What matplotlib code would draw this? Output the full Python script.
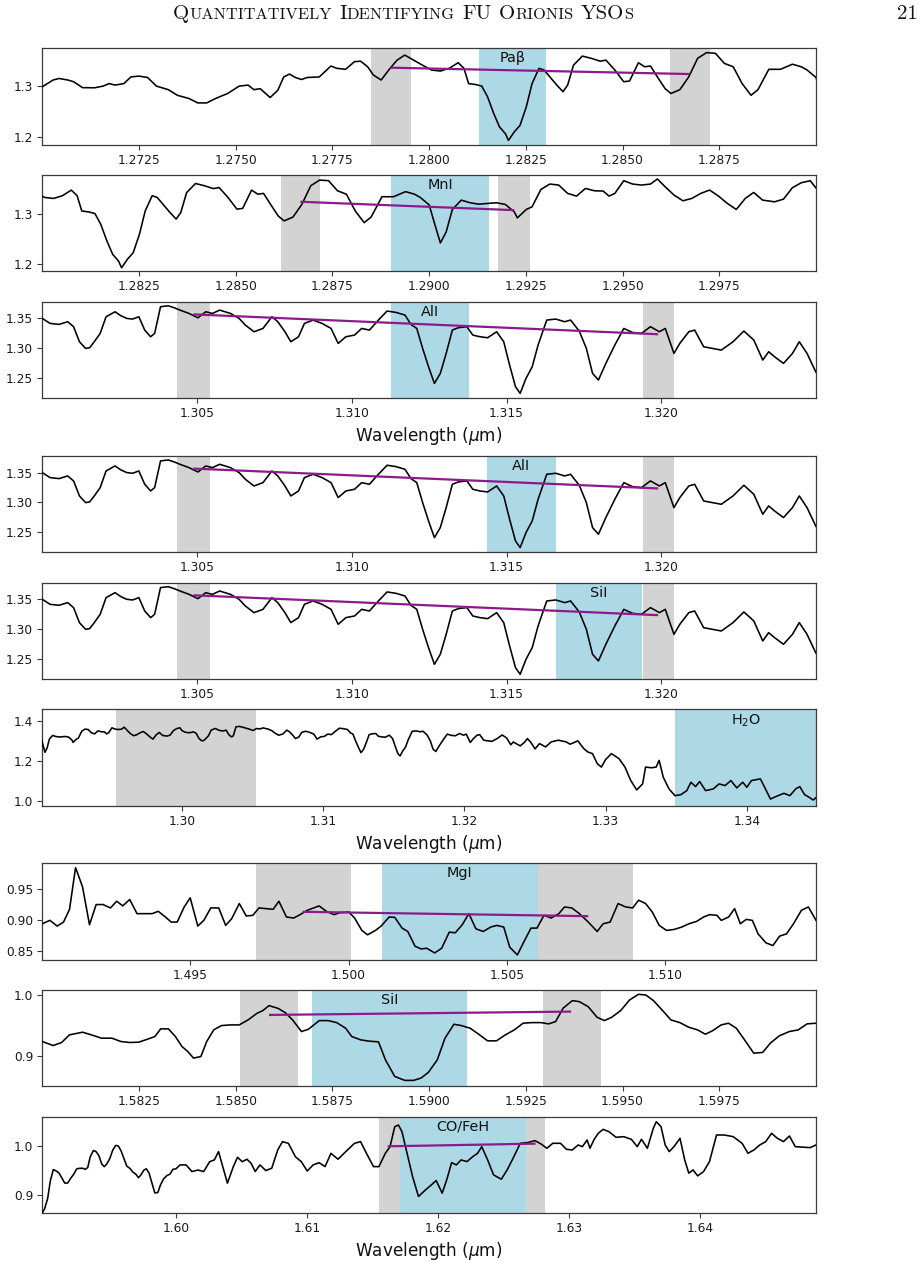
import numpy as np
import matplotlib
matplotlib.use("Agg")
import matplotlib.pyplot as plt

# ---------------- data ----------------
wave_j1 = [1.27000,1.27028,1.27043,1.27066,1.27081,1.27104,1.27135,1.27157,1.27173,1.27188,
1.27211,1.27229,1.27249,1.27272,1.27295,1.27326,1.27349,1.27379,1.27402,1.27425,
1.27448,1.27479,1.27509,1.27532,1.27547,1.27563,1.27589,1.27609,1.27624,1.27639,
1.27654,1.27670,1.27685,1.27716,1.27746,1.27761,1.27784,1.27807,1.27823,1.27841,
1.27856,1.27876,1.27899,1.27917,1.27937,1.27960,1.27983,1.28006,1.28029,1.28052,
1.28075,1.28090,1.28102,1.28121,1.28136,1.28151,1.28167,1.28182,1.28197,1.28205,
1.28220,1.28235,1.28251,1.28266,1.28284,1.28297,1.28312,1.28330,1.28346,1.28358,
1.28373,1.28396,1.28419,1.28442,1.28457,1.28480,1.28503,1.28518,1.28541,1.28557,
1.28572,1.28590,1.28610,1.28625,1.28648,1.28671,1.28694,1.28717,1.28740,1.28763,
1.28786,1.28809,1.28832,1.28850,1.28878,1.28908,1.28939,1.28962,1.28977,1.29000]
flux_j1 = [1.2987,1.312,1.315,1.312,1.3086,1.297,1.2967,1.300,1.305,1.302,
1.305,1.318,1.3197,1.317,1.300,1.293,1.282,1.2757,1.267,1.267,
1.2757,1.2855,1.300,1.302,1.293,1.295,1.2776,1.292,1.318,1.3237,
1.317,1.313,1.317,1.318,1.3395,1.335,1.333,1.348,1.349,1.338,
1.3217,1.312,1.335,1.351,1.361,1.351,1.341,1.3316,1.3296,1.335,
1.346,1.335,1.305,1.303,1.300,1.279,1.246,1.2197,1.2066,1.1934,
1.210,1.223,1.259,1.305,1.335,1.3316,1.318,1.302,1.289,1.302,
1.341,1.359,1.3546,1.349,1.351,1.3316,1.3086,1.310,1.346,1.338,
1.3395,1.318,1.295,1.2855,1.293,1.318,1.3546,1.3658,1.3645,1.3447,
1.338,1.305,1.282,1.293,1.333,1.333,1.343,1.338,1.3316,1.317]

wave_j2 = [1.29014,1.29029,1.29044,1.29060,1.29083,1.29106,1.29128,1.29151,1.29174,1.29197,
1.29220,1.29228,1.29251,1.29266,1.29289,1.29312,1.29335,1.29358,1.29381,1.29404,
1.29427,1.29450,1.29465,1.29480,1.29503,1.29526,1.29549,1.29572,1.29590,1.29610,
1.29633,1.29656,1.29679,1.29702,1.29725,1.29748,1.29771,1.29794,1.29817,1.29839,
1.29862,1.29893,1.29916,1.29939,1.29962,1.29985]
flux_j2 = [1.2803,1.2421,1.2638,1.3079,1.3263,1.3211,1.3184,1.3197,1.3211,1.3178,
1.3033,1.2914,1.3079,1.3132,1.3474,1.3579,1.3559,1.3395,1.3342,1.3493,
1.3447,1.3441,1.3342,1.3395,1.3645,1.3579,1.3559,1.3579,1.3678,1.3526,
1.3362,1.3250,1.3296,1.3395,1.3461,1.3342,1.3197,1.3079,1.3296,1.3414,
1.3263,1.3230,1.3283,1.3507,1.3605,1.3645]

wave_j3 = [1.30000,1.30025,1.30054,1.30082,1.30101,1.30120,1.30140,1.30153,1.30168,1.30187,
1.30206,1.30235,1.30254,1.30273,1.30292,1.30312,1.30331,1.30350,1.30363,1.30382,
1.30407,1.30426,1.30445,1.30474,1.30503,1.30528,1.30550,1.30573,1.30608,1.30636,
1.30656,1.30684,1.30713,1.30742,1.30761,1.30784,1.30803,1.30828,1.30847,1.30875,
1.30904,1.30933,1.30956,1.30981,1.31009,1.31032,1.31057,1.31086,1.31114,1.31143,
1.31172,1.31191,1.31210,1.31229,1.31248,1.31267,1.31286,1.31305,1.31325,1.31344,
1.31372,1.31391,1.31414,1.31439,1.31468,1.31491,1.31510,1.31529,1.31544,1.31563,
1.31583,1.31602,1.31630,1.31659,1.31688,1.31707,1.31735,1.31758,1.31778,1.31797,
1.31821,1.31850,1.31879,1.31907,1.31936,1.31965,1.31994,1.32013,1.32041,1.32060,
1.32089,1.32108,1.32137,1.32166,1.32194,1.32232,1.32267,1.32299,1.32328,1.32347,
1.32366,1.32395,1.32424,1.32446,1.32471,1.32500]
flux_j3 = [1.3500,1.3416,1.3399,1.3444,1.3360,1.3107,1.2994,1.3006,1.3107,1.3247,
1.3528,1.3612,1.3545,1.3500,1.3489,1.3528,1.3303,1.3191,1.3247,1.3697,
1.3713,1.3680,1.3640,1.3584,1.3511,1.3612,1.3584,1.3640,1.3584,1.3500,
1.3388,1.3275,1.3331,1.3528,1.3444,1.3275,1.3107,1.3191,1.3416,1.3472,
1.3416,1.3331,1.3079,1.3191,1.3219,1.3331,1.3303,1.3472,1.3624,1.3601,
1.3556,1.3399,1.3331,1.2994,1.2685,1.2404,1.2573,1.2910,1.3303,1.3343,
1.3360,1.3219,1.3191,1.3174,1.3275,1.3107,1.2713,1.2348,1.2236,1.2489,
1.2685,1.3051,1.3472,1.3489,1.3444,1.3472,1.3287,1.2994,1.2573,1.2461,
1.2742,1.3051,1.3331,1.3264,1.3247,1.3360,1.3275,1.3331,1.2910,1.3079,
1.3275,1.3303,1.3022,1.2994,1.2966,1.3107,1.3287,1.3135,1.2798,1.2938,
1.2854,1.2742,1.2910,1.3107,1.2910,1.2590]

wave_j4 = [1.32532,1.32574,1.32615,1.32665,1.32720,1.32749,1.32803,1.32845,1.32874,1.32907,
1.32941,1.32970,1.32999,1.33041,1.33095,1.33137,1.33178,1.33220,1.33262,1.33283,
1.33324,1.33358,1.33379,1.33408,1.33449,1.33491,1.33533,1.33575,1.33604,1.33637,
1.33666,1.33708,1.33762,1.33804,1.33846,1.33887,1.33929,1.33971,1.34000,1.34033,
1.34096,1.34138,1.34167,1.34221,1.34263,1.34305,1.34346,1.34375,1.34409,1.34442,
1.34471,1.34492]
flux_j4 = [1.2857,1.2689,1.2941,1.3025,1.2941,1.2824,1.2992,1.2605,1.2437,1.2353,
1.1849,1.1681,1.2050,1.2353,1.2101,1.1681,1.1008,1.0538,1.0840,1.1681,
1.1647,1.1681,1.2017,1.1176,1.0588,1.0252,1.0303,1.0504,1.0924,1.0706,
1.0958,1.0504,1.0588,1.0840,1.0756,1.1008,1.0639,1.0924,1.0672,1.1008,
1.1092,1.0504,1.0084,1.0252,1.0370,1.0252,1.0588,1.0706,1.0303,1.0168,
1.0034,1.0168]

wave_h1 = [1.49033,1.49057,1.49080,1.49100,1.49119,1.49138,1.49160,1.49182,1.49203,1.49225,
1.49248,1.49268,1.49287,1.49309,1.49332,1.49356,1.49380,1.49399,1.49422,1.49440,
1.49459,1.49481,1.49500,1.49524,1.49543,1.49565,1.49590,1.49612,1.49631,1.49655,
1.49677,1.49698,1.49717,1.49739,1.49762,1.49780,1.49804,1.49827,1.49847,1.49870,
1.49907,1.49930,1.49954,1.49973,1.50001,1.50019,1.50042,1.50060,1.50085,1.50103,
1.50128,1.50146,1.50169,1.50187,1.50210,1.50229,1.50247,1.50272,1.50294,1.50318,
1.50337,1.50359,1.50380,1.50402,1.50425,1.50449,1.50468,1.50490,1.50509,1.50533,
1.50552,1.50576,1.50595,1.50617,1.50640,1.50664,1.50682,1.50705,1.50729,1.50757,
1.50785,1.50804,1.50826,1.50851,1.50875,1.50897,1.50916,1.50938,1.50959,1.50981,
1.51004,1.51028,1.51052,1.51075,1.51099,1.51121,1.51140,1.51163,1.51177,1.51200,
1.51219,1.51237,1.51256,1.51275,1.51293,1.51318,1.51340,1.51361,1.51383,1.51405,
1.51430,1.51452,1.51476]
flux_h1 = [0.8937,0.8992,0.8899,0.8964,0.9172,0.9850,0.9538,0.8921,0.9249,0.9249,
0.9194,0.9303,0.9227,0.9331,0.9101,0.9101,0.9101,0.9139,0.9046,0.8964,
0.8964,0.9210,0.9358,0.8899,0.8992,0.9194,0.9194,0.8910,0.9019,0.9265,
0.9063,0.9074,0.9194,0.9183,0.9172,0.9303,0.9046,0.9030,0.9085,0.9156,
0.9227,0.9139,0.9085,0.9117,0.9128,0.9030,0.8828,0.8757,0.8828,0.8899,
0.9046,0.9041,0.8866,0.8811,0.8571,0.8527,0.8538,0.8462,0.8538,0.8800,
0.8790,0.8921,0.9101,0.8855,0.8811,0.8883,0.8910,0.8883,0.8555,0.8429,
0.8626,0.8866,0.8866,0.9074,0.9030,0.9101,0.9210,0.9194,0.9101,0.8964,
0.8811,0.8937,0.8964,0.9265,0.9210,0.9194,0.9320,0.9265,0.9128,0.8910,
0.8828,0.8844,0.8883,0.8937,0.8975,0.9046,0.9085,0.9074,0.8992,0.9046,
0.9183,0.8937,0.9008,0.8992,0.8773,0.8626,0.8582,0.8735,0.8773,0.8937,
0.9156,0.9210,0.8992]

wave_h2 = [1.58000,1.58028,1.58050,1.58070,1.58104,1.58127,1.58153,1.58180,1.58203,1.58226,
1.58249,1.58272,1.58291,1.58306,1.58326,1.58344,1.58361,1.58376,1.58391,1.58410,
1.58425,1.58443,1.58463,1.58486,1.58509,1.58532,1.58555,1.58570,1.58586,1.58609,
1.58628,1.58647,1.58670,1.58688,1.58716,1.58739,1.58761,1.58784,1.58800,1.58823,
1.58846,1.58869,1.58887,1.58911,1.58937,1.58960,1.58979,1.58998,1.59021,1.59041,
1.59064,1.59083,1.59106,1.59128,1.59151,1.59174,1.59197,1.59220,1.59243,1.59266,
1.59289,1.59309,1.59327,1.59346,1.59370,1.59388,1.59411,1.59434,1.59453,1.59472,
1.59495,1.59518,1.59541,1.59560,1.59580,1.59602,1.59625,1.59648,1.59671,1.59694,
1.59714,1.59732,1.59755,1.59774,1.59794,1.59820,1.59839,1.59862,1.59882,1.59905,
1.59931,1.59954,1.59977,1.60000]
flux_h2 = [0.9235,0.9169,0.9219,0.9344,0.9388,0.9344,0.9290,0.9290,0.9235,0.9219,
0.9224,0.9273,0.9317,0.9443,0.9443,0.9317,0.9153,0.9071,0.8962,0.8989,
0.9235,0.9426,0.9497,0.9508,0.9508,0.9590,0.9699,0.9743,0.9825,0.9781,
0.9710,0.9590,0.9399,0.9437,0.9579,0.9579,0.9546,0.9454,0.9317,0.9262,
0.9240,0.9230,0.8934,0.8661,0.8596,0.8596,0.8634,0.8727,0.8934,0.9290,
0.9519,0.9497,0.9454,0.9355,0.9246,0.9246,0.9344,0.9426,0.9536,0.9546,
0.9546,0.9525,0.9563,0.9781,0.9907,0.9891,0.9809,0.9634,0.9579,0.9634,
0.9743,0.9918,1.0011,1.0000,0.9907,0.9754,0.9590,0.9546,0.9470,0.9426,
0.9355,0.9410,0.9508,0.9536,0.9454,0.9219,0.9044,0.9055,0.9208,0.9328,
0.9399,0.9426,0.9525,0.9536]

wave_h3 = [1.60032,1.60077,1.60122,1.60167,1.60212,1.60257,1.60293,1.60325,1.60361,1.60393,
1.60438,1.60470,1.60506,1.60542,1.60573,1.60605,1.60641,1.60686,1.60731,1.60777,
1.60813,1.60858,1.60912,1.60957,1.61002,1.61047,1.61093,1.61138,1.61183,1.61237,
1.61296,1.61363,1.61409,1.61454,1.61508,1.61549,1.61598,1.61634,1.61670,1.61698,
1.61725,1.61770,1.61806,1.61851,1.61905,1.61950,1.61986,1.62032,1.62068,1.62104,
1.62140,1.62176,1.62221,1.62266,1.62302,1.62334,1.62379,1.62424,1.62483,1.62528,
1.62573,1.62628,1.62682,1.62740,1.62786,1.62831,1.62876,1.62935,1.62980,1.63025,
1.63070,1.63102,1.63138,1.63160,1.63192,1.63223,1.63260,1.63305,1.63359,1.63418,
1.63476,1.63521,1.63553,1.63598,1.63643,1.63666,1.63702,1.63734,1.63765,1.63801,
1.63847,1.63883,1.63914,1.63946,1.63982,1.64027,1.64072,1.64126,1.64185,1.64253,
1.64321,1.64366,1.64411,1.64456,1.64501,1.64546,1.64591,1.64637,1.64682,1.64727,
1.64795,1.64840,1.64885]
flux_h3 = [0.9615,0.9615,0.948,0.951,0.948,0.968,0.9716,0.9885,0.9547,0.9243,
0.958,0.977,0.968,0.973,0.965,0.948,0.9615,0.95,0.9547,0.9919,
1.0088,1.0054,0.978,0.968,0.949,0.9615,0.966,0.958,0.985,0.973,
0.9885,1.0054,1.0088,0.985,0.958,0.958,0.985,0.9986,1.0392,1.0426,
1.029,0.978,0.9378,0.8973,0.9108,0.921,0.9297,0.904,0.9324,0.9662,
0.9615,0.9716,0.9682,0.9784,0.9851,0.9986,0.9716,0.9412,0.9324,0.9514,
0.975,1.0054,1.0068,1.0108,1.0041,0.9953,1.0054,1.0054,0.9932,0.9919,
1.002,0.9986,1.0122,0.9953,1.0135,1.0257,1.0338,1.029,1.0176,1.0189,
1.0135,0.9986,1.0135,0.9953,1.0358,1.0493,1.0392,1.002,0.9885,0.9986,
1.0155,0.9716,0.9446,0.9514,0.9392,0.948,0.9682,1.0223,1.0223,1.0189,
1.0054,0.9851,0.9919,1.002,1.0088,1.0257,1.0155,1.0088,1.0203,0.9986,
0.9973,0.9966,1.002]

# line labels, feature windows, continuum windows, continuum fits
line_labels = ["Paβ", "MnI", "AlI", "AlI", "SiI", "H$_2$O", "MgI", "SiI", "CO/FeH"]
feature_windows = [(1.28130, 1.28303), (1.28902, 1.29156), (1.31128, 1.31380),
                   (1.31437, 1.31659), (1.31659, 1.31938), (1.33491, 1.34500),
                   (1.50105, 1.50598), (1.58697, 1.59099), (1.61707, 1.62668)]
continuum_windows = [[(1.27850, 1.27953), (1.28622, 1.28725)],
                     [(1.28616, 1.28717), (1.29179, 1.29261)],
                     [(1.30436, 1.30541), (1.31940, 1.32041)],
                     [(1.30436, 1.30541), (1.31940, 1.32041)],
                     [(1.30436, 1.30541), (1.31940, 1.32041)],
                     [(1.29529, 1.30521)],
                     [(1.49709, 1.50008), (1.50598, 1.50899)],
                     [(1.58512, 1.58662), (1.59295, 1.59445)],
                     [(1.61549, 1.61707), (1.62668, 1.62813)]]
fit_wave = [(1.27900, 1.28674), (1.28667, 1.29220), (1.30488, 1.31990),
            (1.30488, 1.31990), (1.30488, 1.31990), None,
            (1.49855, 1.50757), (1.58586, 1.59367), (1.61616, 1.62745)]
fit_flux = [(1.3362, 1.3237), (1.3231, 1.3066), (1.3568, 1.3233),
            (1.3568, 1.3233), (1.3568, 1.3233), None,
            (0.9131, 0.9060), (0.9672, 0.9727), (0.9993, 1.0047)]

xlims = [(1.2700, 1.2900), (1.2800, 1.3000), (1.3000, 1.3250), (1.3000, 1.3250),
         (1.3000, 1.3250), (1.2901, 1.3449), (1.49033, 1.51476), (1.5800, 1.6000),
         (1.5898, 1.64885)]
ylims = [(1.1849, 1.3743), (1.1862, 1.3757), (1.2155, 1.3780), (1.2155, 1.3780),
         (1.2155, 1.3780), (0.975, 1.457), (0.8352, 0.9920), (0.8497, 1.0082),
         (0.8635, 1.0595)]
xtick_j1 = ["1.2725", "1.2750", "1.2775", "1.2800", "1.2825", "1.2850", "1.2875"]
xtick_j2 = ["1.2825", "1.2850", "1.2875", "1.2900", "1.2925", "1.2950", "1.2975"]
xtick_j3 = ["1.305", "1.310", "1.315", "1.320"]
xtick_j6 = ["1.30", "1.31", "1.32", "1.33", "1.34"]
xtick_h1 = ["1.495", "1.500", "1.505", "1.510"]
xtick_h2 = ["1.5825", "1.5850", "1.5875", "1.5900", "1.5925", "1.5950", "1.5975"]
xtick_h3 = ["1.60", "1.61", "1.62", "1.63", "1.64"]
xtick_labels = [xtick_j1, xtick_j2, xtick_j3, xtick_j3, xtick_j3, xtick_j6,
                xtick_h1, xtick_h2, xtick_h3]
ytick_labels = [["1.2", "1.3"], ["1.2", "1.3"], ["1.25", "1.30", "1.35"],
                ["1.25", "1.30", "1.35"], ["1.25", "1.30", "1.35"],
                ["1.0", "1.2", "1.4"], ["0.85", "0.90", "0.95"],
                ["0.9", "1.0"], ["0.9", "1.0"]]
spectrum_of_panel = ["J", "J", "J", "J", "J", "J", "H1", "H", "H"]
xlabel_panels = [2, 5, 8]

# ---------------- figure ----------------
W_PX, H_PX, DPI = 924, 1261, 100
fig = plt.figure(figsize=(W_PX / DPI, H_PX / DPI), dpi=DPI)

spectra = {
    "J": (np.array(wave_j1 + wave_j2 + wave_j3 + wave_j4),
          np.array(flux_j1 + flux_j2 + flux_j3 + flux_j4)),
    "H1": (np.array(wave_h1), np.array(flux_h1)),
    "H": (np.array(wave_h2 + wave_h3), np.array(flux_h2 + flux_h3)),
}

tops_px = [48.3, 175.0, 301.8, 456.0, 582.7, 709.3, 863.3, 990.0, 1116.7]
ax_h_px = 96.4
left_px, right_px = 42.3, 816.0

GRAY = "#d3d3d3"
BLUE = "#add8e6"
FRAME = "#3a3a3a"

for i in range(9):
    b = 1 - (tops_px[i] + ax_h_px) / H_PX
    ax = fig.add_axes([left_px / W_PX, b, (right_px - left_px) / W_PX, ax_h_px / H_PX])
    wv, fl = spectra[spectrum_of_panel[i]]
    for (a0, a1) in continuum_windows[i]:
        ax.axvspan(a0, a1, color=GRAY, lw=0, zorder=1)
    f0, f1 = feature_windows[i]
    ax.axvspan(f0, f1, color=BLUE, lw=0, zorder=1.5)
    ax.plot(wv, fl, color="k", lw=1.15, zorder=3)
    if fit_wave[i] is not None:
        ax.plot(fit_wave[i], fit_flux[i], color="#8b1a8b", lw=1.6, zorder=4,
                solid_capstyle="butt")
    ax.set_xlim(*xlims[i])
    ax.set_ylim(*ylims[i])
    ax.text(0.5 * (f0 + f1), ylims[i][1] - 0.03 * (ylims[i][1] - ylims[i][0]),
            line_labels[i], ha="center", va="top", fontsize=10.4, color="#111111",
            zorder=5)
    xt = [float(s) for s in xtick_labels[i]]
    ax.set_xticks(xt)
    ax.set_xticklabels(xtick_labels[i])
    yt = [float(s) for s in ytick_labels[i]]
    ax.set_yticks(yt)
    ax.set_yticklabels(ytick_labels[i])
    ax.tick_params(labelsize=8.8, length=3.5, width=0.8, color=FRAME,
                   labelcolor="#1a1a1a", pad=3)
    for sp in ax.spines.values():
        sp.set_color(FRAME)
        sp.set_linewidth(0.9)
    if i in xlabel_panels:
        ax.set_xlabel("Wavelength ($\\mu$m)", fontsize=12.2, labelpad=3.5,
                      color="#111111")


# ---------------- running header (small caps) ----------------
def draw_smallcaps(fig, cx_px, base_px, text, big, small, family):
    r = fig.canvas.get_renderer()
    runs = []
    for word in text.split(" "):
        wr = []
        for ch in word:
            sz = big if ch.isupper() else small
            c = ch.upper()
            if wr and wr[-1][1] == sz:
                wr[-1][0] += c
            else:
                wr.append([c, sz])
        runs.append(wr)
    space = 0.36 * big * fig.dpi / 72
    objs, total = [], 0.0
    for k, wr in enumerate(runs):
        for c, sz in wr:
            t = fig.text(0, 1 - base_px / H_PX, c, fontsize=sz, family=family,
                         va="baseline", ha="left", color="#111111")
            w = t.get_window_extent(r).width
            objs.append((t, total))
            total += w
        if k < len(runs) - 1:
            total += space
    x0 = cx_px - total / 2
    for t, off in objs:
        t.set_x((x0 + off) / W_PX)


draw_smallcaps(fig, 403, 19, "Quantitatively Identifying FU Orionis YSOs",
               15.0, 11.8, "cmr10")
fig.text(918 / W_PX, 1 - 19 / H_PX, "21", fontsize=15.0, family="cmr10",
         ha="right", va="baseline", color="#111111")

fig.savefig("out.png", dpi=DPI)
